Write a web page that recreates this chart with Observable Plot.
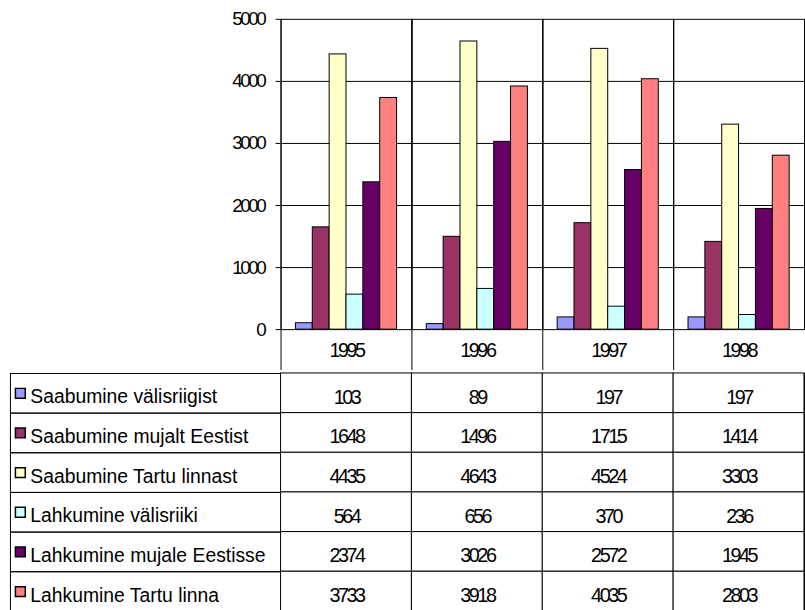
<!DOCTYPE html>
<html><head><meta charset="utf-8">
<script src="https://cdn.jsdelivr.net/npm/d3@7"></script>
<script src="https://cdn.jsdelivr.net/npm/@observablehq/plot@0.6"></script>
<style>
html,body{margin:0;padding:0;background:#fff;overflow:hidden;width:805px;height:610px}
#chart svg{display:block}
</style></head><body><div id="chart"></div>
<script>
const years = ["1995", "1996", "1997", "1998"];
const seriesNames = ["Saabumine välisriigist", "Saabumine mujalt Eestist", "Saabumine Tartu linnast", "Lahkumine välisriiki", "Lahkumine mujale Eestisse", "Lahkumine Tartu linna"];
const seriesColors = ["#9999FF", "#993366", "#FFFFCC", "#CCFFFF", "#660066", "#FF8080"];
const saabumineValisriigist = [103, 89, 197, 197];
const saabumineMujaltEestist = [1648, 1496, 1715, 1414];
const saabumineTartuLinnast = [4435, 4643, 4524, 3303];
const lahkumineValisriiki = [564, 656, 370, 236];
const lahkumineMujaleEestisse = [2374, 3026, 2572, 1945];
const lahkumineTartuLinna = [3733, 3918, 4035, 2803];
const yTicks = [0, 1000, 2000, 3000, 4000, 5000];

const seriesValues = [saabumineValisriigist, saabumineMujaltEestist, saabumineTartuLinnast, lahkumineValisriiki, lahkumineMujaleEestisse, lahkumineTartuLinna];
const data = seriesNames.flatMap((s, i) => years.map((y, j) => ({series: s, year: y, value: seriesValues[i][j]})));

const W = 812, plotLeft = 283, plotRight = 811;
const baseStyle = {fontFamily: "'Liberation Sans', Arial, sans-serif", fontSize: "20px", color: "black", background: "white"};

const chart = Plot.plot({
  width: W, height: 373, marginTop: 19, marginBottom: 41, marginLeft: plotLeft, marginRight: W - plotRight,
  style: baseStyle,
  fx: {domain: years, padding: 0, label: null},
  x: {domain: seriesNames, paddingInner: 0, paddingOuter: 0.73, axis: null},
  y: {domain: [0, 5000], axis: null},
  color: {domain: seriesNames, range: seriesColors},
  marks: [
    Plot.gridY(yTicks.slice(1, -1), {stroke: "black", strokeOpacity: 1}),
    Plot.frame({stroke: "black"}),
    Plot.frame({anchor: "left", insetBottom: -41, stroke: "black"}),
    Plot.barY(data, {fx: "year", x: "series", y: "value", fill: "series", stroke: "black", strokeWidth: 1}),
    Plot.axisY({ticks: yTicks, tickSize: 5, tickPadding: 12, tickFormat: d => String(d), fontSize: 19, label: null}),
    Plot.axisFx({anchor: "bottom", tickSize: 0, tickPadding: 13, label: null, fontSize: 20})
  ]
});

const table = Plot.plot({
  width: W, height: 245, marginTop: 1, marginBottom: 1, marginLeft: 10, marginRight: W - plotRight,
  style: baseStyle,
  fy: {domain: seriesNames, padding: 0, axis: null, label: null},
  x: {type: "band", domain: years, range: [plotLeft, plotRight], padding: 0, axis: null},
  color: {domain: seriesNames, range: seriesColors},
  marks: [
    Plot.frame({stroke: "black"}),
    Plot.cell(data, {x: "year", fy: "series", fill: "white", stroke: "black"}),
    Plot.text(data, {x: "year", fy: "series", text: d => String(d.value), dy: 4, fontSize: 20}),
    Plot.dot(seriesNames, {fy: d => d, frameAnchor: "left", dx: 10, symbol: "square", r: 5.6, fill: d => d, stroke: "black"}),
    Plot.text(seriesNames, {fy: d => d, frameAnchor: "left", dx: 20, text: d => d, textAnchor: "start", dy: 4, fontSize: 19.5})
  ]
});

const root = document.getElementById("chart");
root.appendChild(chart);
root.appendChild(table);
for (const t of root.querySelectorAll("text")) {
  if (/^\d+$/.test(t.textContent.trim())) t.style.letterSpacing = "-2.5px";
}
</script></body></html>
